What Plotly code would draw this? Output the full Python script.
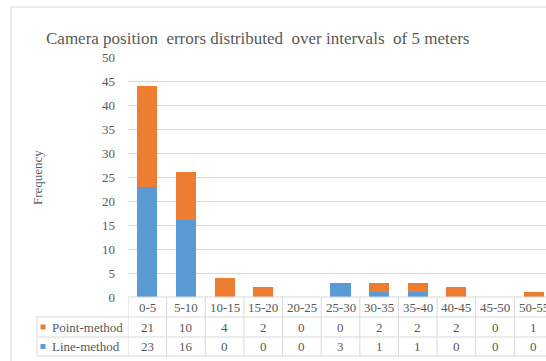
import plotly.graph_objects as go

# Frequency of camera position errors per 5 m interval
intervals = ["0-5", "5-10", "10-15", "15-20", "20-25", "25-30",
             "30-35", "35-40", "40-45", "45-50", "50-55"]
line_method = [23, 16, 0, 0, 0, 3, 1, 1, 0, 0, 0]
point_method = [21, 10, 4, 2, 0, 0, 2, 2, 2, 0, 1]
y_ticks = [0, 5, 10, 15, 20, 25, 30, 35, 40, 45, 50]

BLUE = "#5b9bd5"
ORANGE = "#ed7d31"
GRID = "#d9d9d9"
TEXT = "#595959"
FONT = "Liberation Serif"

# page geometry (pixels)
FIG_W, FIG_H = 546, 361
PLOT_L, PLOT_T, PLOT_B = 128, 57, 297
COL_PX = 38.64
PW = FIG_W - PLOT_L
PH = PLOT_B - PLOT_T


def px_x(px):
    return (px - PLOT_L) / PW


def px_y(py):
    return (PLOT_B - py) / PH


x_idx = list(range(len(intervals)))
x_end = -0.5 + PW / COL_PX

fig = go.Figure()
fig.add_bar(x=x_idx, y=line_method, name="Line-method", marker_color=BLUE,
            marker_line_width=0)
fig.add_bar(x=x_idx, y=point_method, name="Point-method", marker_color=ORANGE,
            marker_line_width=0)

shapes = []
annotations = []

# outer chart frame
shapes.append(dict(type="rect", xref="paper", yref="paper",
                   x0=px_x(11), x1=px_x(FIG_W + 20),
                   y0=px_y(FIG_H + 20), y1=px_y(7),
                   line=dict(color=GRID, width=1), layer="below"))

# data table under the axis
row_lines = [317, 337, 356]
for py in row_lines:
    shapes.append(dict(type="line", xref="paper", yref="paper",
                       x0=px_x(37), x1=px_x(FIG_W + 20), y0=px_y(py), y1=px_y(py),
                       line=dict(color=GRID, width=1)))
shapes.append(dict(type="line", xref="paper", yref="paper",
                   x0=px_x(37), x1=px_x(37), y0=px_y(317), y1=px_y(356),
                   line=dict(color=GRID, width=1)))
for k in range(len(intervals)):
    shapes.append(dict(type="line", xref="x", yref="paper",
                       x0=k - 0.5, x1=k - 0.5, y0=px_y(PLOT_B), y1=px_y(356),
                       line=dict(color=GRID, width=1)))
shapes.append(dict(type="line", xref="paper", yref="paper",
                   x0=0, x1=1, y0=0, y1=0, line=dict(color=GRID, width=1)))

cell_font = dict(family=FONT, size=13, color=TEXT)
for k, name in enumerate(intervals):
    annotations.append(dict(x=k, y=px_y(307), xref="x", yref="paper",
                            text=name, showarrow=False, font=cell_font,
                            xanchor="center", yanchor="middle"))
    annotations.append(dict(x=k, y=px_y(327), xref="x", yref="paper",
                            text=str(point_method[k]), showarrow=False,
                            font=cell_font, xanchor="center", yanchor="middle"))
    annotations.append(dict(x=k, y=px_y(346.5), xref="x", yref="paper",
                            text=str(line_method[k]), showarrow=False,
                            font=cell_font, xanchor="center", yanchor="middle"))

for label, color, py in [("Point-method", ORANGE, 327), ("Line-method", BLUE, 346.5)]:
    shapes.append(dict(type="rect", xref="paper", yref="paper",
                       x0=px_x(40.5), x1=px_x(45.5), y0=px_y(py + 2.5), y1=px_y(py - 2.5),
                       fillcolor=color, line=dict(width=0)))
    annotations.append(dict(x=px_x(50), y=px_y(py), xref="paper", yref="paper",
                            text=label, showarrow=False, font=cell_font,
                            xanchor="left", yanchor="middle"))

# title and axis title
annotations.append(dict(x=px_x(44), y=px_y(38), xref="paper", yref="paper",
                        text="Camera position\u00a0 errors distributed\u00a0 over intervals\u00a0 of 5 meters",
                        showarrow=False, xanchor="left", yanchor="middle",
                        font=dict(family=FONT, size=17, color=TEXT)))
annotations.append(dict(x=px_x(37), y=px_y(178), xref="paper", yref="paper",
                        text="Frequency", textangle=-90, showarrow=False,
                        xanchor="center", yanchor="middle",
                        font=dict(family=FONT, size=13, color=TEXT)))

fig.update_layout(
    width=FIG_W, height=FIG_H,
    margin=dict(l=PLOT_L, r=0, t=PLOT_T, b=FIG_H - PLOT_B, pad=0),
    barmode="stack", bargap=0.48,
    plot_bgcolor="white", paper_bgcolor="white",
    showlegend=False,
    shapes=shapes, annotations=annotations,
    xaxis=dict(range=[-0.5, x_end], showticklabels=False, showgrid=False,
               zeroline=False, ticks=""),
    yaxis=dict(range=[0, 50], tickvals=y_ticks, showgrid=True, gridcolor=GRID,
               gridwidth=1, zeroline=False, ticks="", ticklabelstandoff=12,
               tickfont=dict(family=FONT, size=13, color=TEXT)),
)

fig.write_html("out.html")
